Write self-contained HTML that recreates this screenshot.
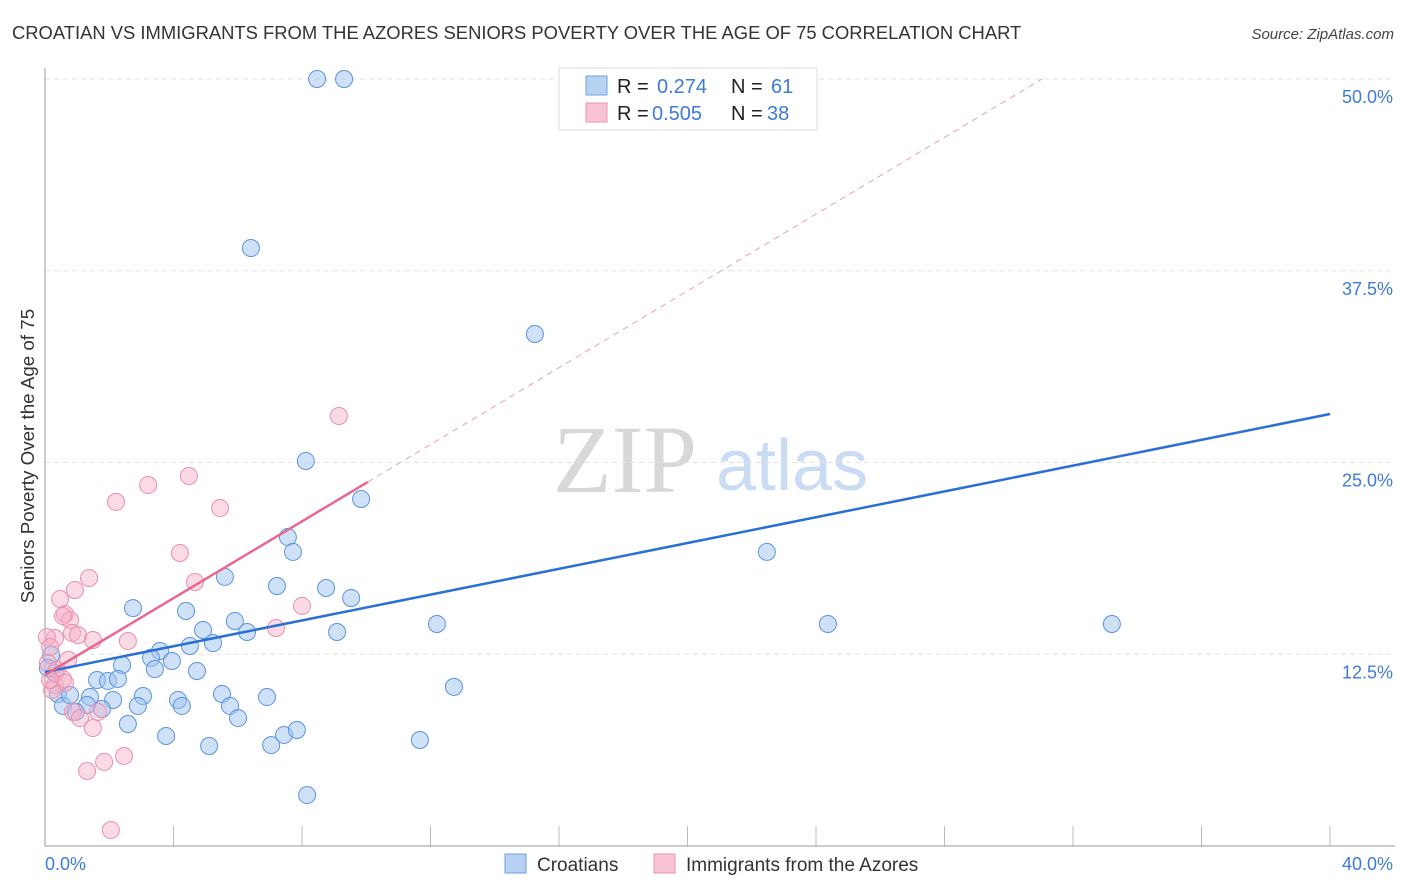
<!DOCTYPE html>
<html><head><meta charset="utf-8"><style>
body{margin:0;background:#fff;font-family:"Liberation Sans",sans-serif;}
</style></head><body>
<svg id="chart" width="1406" height="892" xmlns="http://www.w3.org/2000/svg" style="display:block">
<text x="12" y="39" font-size="18.4" fill="#333">CROATIAN VS IMMIGRANTS FROM THE AZORES SENIORS POVERTY OVER THE AGE OF 75 CORRELATION CHART</text>
<text x="1394" y="39" font-size="15" fill="#444" text-anchor="end" font-style="italic">Source: ZipAtlas.com</text>
<text x="553" y="492" font-size="96" fill="#d8d8d8" font-family="Liberation Serif,serif">ZIP</text>
<text x="716" y="490" font-size="72" fill="#c9dcf3">atlas</text>
<g id="grid"></g>
<line x1="45" y1="68" x2="45" y2="846" stroke="#999"/>
<line x1="45" y1="846" x2="1395" y2="846" stroke="#999"/>
<text transform="translate(34,456) rotate(-90)" font-size="18.8" fill="#333" text-anchor="middle">Seniors Poverty Over the Age of 75</text>
<text x="45" y="870" font-size="18" fill="#3d7bd9">0.0%</text>
<text x="1393" y="870" font-size="18" fill="#3d7bd9" text-anchor="end">40.0%</text>
<g id="marks"></g>
<g>
<rect x="559" y="68" width="258" height="62" fill="#fff" stroke="#ddd"/>
<rect x="586" y="76" width="21" height="19" fill="#b7d1f3" stroke="#6fa0e2"/>
<rect x="586" y="103" width="21" height="19" fill="#f8c3d2" stroke="#ec93ae"/>
<text x="617" y="93" font-size="20" fill="#222">R = </text><text x="657" y="93" font-size="20" fill="#3d7bd9">0.274</text>
<text x="731" y="93" font-size="20" fill="#222">N = </text><text x="771" y="93" font-size="20" fill="#3d7bd9">61</text>
<text x="617" y="120" font-size="20" fill="#222">R = </text><text x="652" y="120" font-size="20" fill="#3d7bd9">0.505</text>
<text x="731" y="120" font-size="20" fill="#222">N = </text><text x="767" y="120" font-size="20" fill="#3d7bd9">38</text>
</g>
<g>
<rect x="505" y="854" width="21" height="19" fill="#b7d1f3" stroke="#6fa0e2"/>
<text x="537" y="871" font-size="19" fill="#333">Croatians</text>
<rect x="654" y="854" width="21" height="19" fill="#f8c3d2" stroke="#ec93ae"/>
<text x="686" y="871" font-size="19" fill="#333">Immigrants from the Azores</text>
</g>
</svg>
<script>
const yTicks=[12.5,25,37.5,50];
const xTicks=[0,4,8,12,16,20,24,28,32,36,40];
const blueX=[8.47,9.31,6.41,15.25,8.12,9.84,22.47,7.56,7.72,5.60,7.22,8.75,9.53,2.74,4.39,5.91,4.92,6.29,9.09,12.20,24.37,33.21,5.23,4.51,3.58,3.30,3.95,2.40,3.42,4.73,0.31,1.62,1.96,2.27,0.40,1.40,3.05,5.51,6.91,12.73,0.56,1.31,2.12,4.14,4.26,2.89,5.76,0.96,1.77,2.58,6.01,3.77,5.11,7.04,7.44,7.84,11.67,8.16,0.19,0.78,0.09];
const blueY=[50.0,50.0,38.98,33.38,25.10,22.62,19.17,20.14,19.17,17.54,16.95,16.82,16.17,15.51,15.32,14.67,14.08,13.95,13.95,14.47,14.47,14.47,13.23,13.04,12.71,12.26,12.06,11.80,11.54,11.41,11.28,10.82,10.76,10.89,9.91,9.71,9.78,9.91,9.71,10.37,9.13,9.19,9.52,9.52,9.13,9.13,9.13,8.74,8.93,7.95,8.34,7.17,6.52,6.58,7.24,7.56,6.91,3.32,12.45,9.84,11.60];
const pinkX=[9.15,4.48,3.21,2.21,5.45,4.20,4.67,1.37,0.93,0.47,8.00,0.62,0.78,0.56,0.84,1.03,1.49,2.58,7.19,0.31,0.06,0.16,0.72,0.09,0.37,0.31,0.56,0.62,0.22,0.87,1.09,1.65,1.49,2.46,1.84,1.31,2.05,0.16];
const pinkY=[28.03,24.12,23.53,22.43,22.03,19.10,17.21,17.47,16.69,16.10,15.65,15.12,14.73,14.99,13.89,13.75,13.43,13.36,14.21,13.56,13.62,12.97,12.13,11.93,11.47,10.50,10.89,10.63,10.17,8.74,8.34,8.74,7.69,5.87,5.48,4.89,1.04,10.82];
const blueTrend=[11.34,28.16];
const pinkTrend=[11.15,23.73];
const pinkSolidEnd=10.05;
const NS='http://www.w3.org/2000/svg';
const sx=v=>45+v*32.125, sy=v=>846-v*15.34;
function mk(t,a,p){const e=document.createElementNS(NS,t);for(const k in a)e.setAttribute(k,a[k]);p.appendChild(e);return e;}
const grid=document.getElementById('grid'), marks=document.getElementById('marks');
yTicks.forEach(v=>{
 const l=mk('line',{x1:45,y1:sy(v),x2:1395,y2:sy(v),stroke:'#e2e2e2','stroke-dasharray':'5,4'},grid);
 
 
 const t=mk('text',{x:1393,y:sy(v)+24,'font-size':18,fill:'#3d7bd9','text-anchor':'end'},grid);
 t.textContent=v.toFixed(1)+'%';
 
 
});
xTicks.forEach(v=>{
 const l=mk('line',{x1:sx(v),y1:826,x2:sx(v),y2:846,stroke:'#bbb'},grid);
 
 
});
blueX.forEach((x,i)=>{
 const c=mk('circle',{cx:sx(x),cy:sy(blueY[i]),r:8.5,fill:'rgba(160,195,240,0.5)',stroke:'#5b93e0','stroke-width':1},marks);
 
 
});
pinkX.forEach((x,i)=>{
 const c=mk('circle',{cx:sx(x),cy:sy(pinkY[i]),r:8.5,fill:'rgba(245,175,198,0.45)',stroke:'#ec8fab','stroke-width':1},marks);
 
 
});
const bl=mk('line',{x1:sx(0),y1:sy(blueTrend[0]),x2:sx(40),y2:sy(blueTrend[1]),stroke:'#2a6fd6','stroke-width':2.5},marks);


const slope=(pinkTrend[1]-pinkTrend[0])/pinkSolidEnd;
const pl=mk('line',{x1:sx(0),y1:sy(pinkTrend[0]),x2:sx(pinkSolidEnd),y2:sy(pinkTrend[1]),stroke:'#e8678f','stroke-width':2.5},marks);


const xEnd=(50-pinkTrend[0])/slope;
const pd=mk('line',{x1:sx(pinkSolidEnd),y1:sy(pinkTrend[1]),x2:sx(xEnd),y2:sy(50),stroke:'#eaa0b8','stroke-width':1,'stroke-dasharray':'6,5'},marks);


</script>
</body></html>
